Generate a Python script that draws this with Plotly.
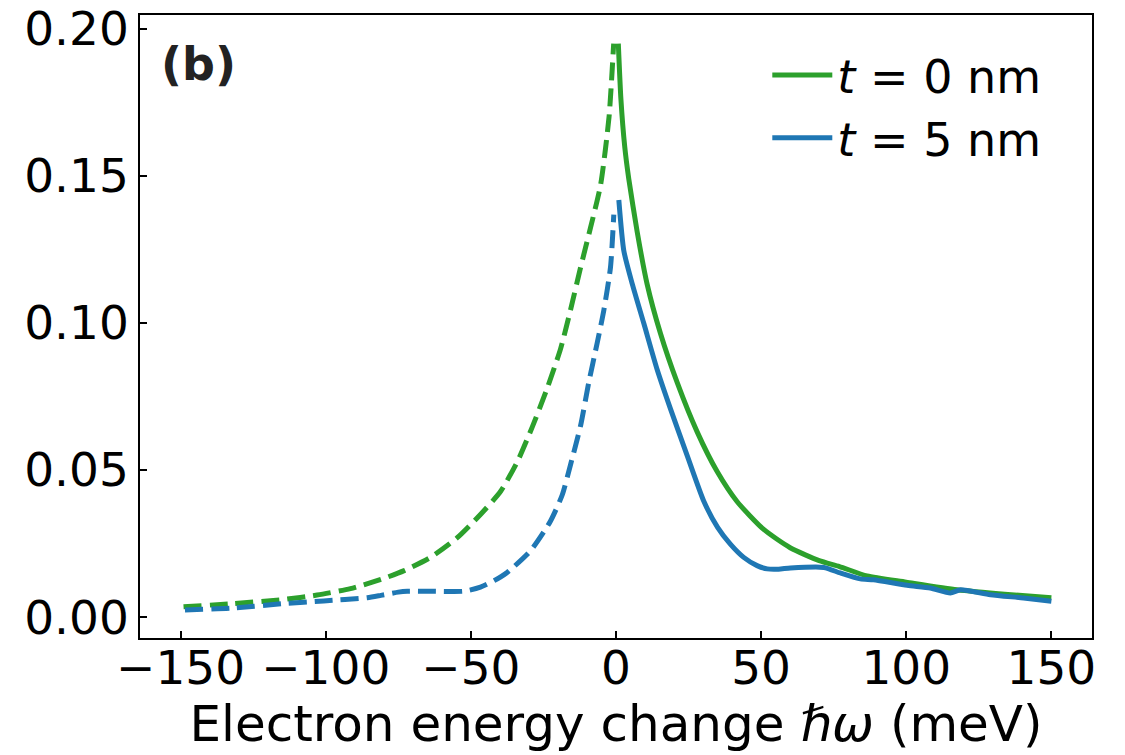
import plotly.graph_objects as go

# t = 0 nm (green)
g_neg_x = [-149, -132, -114.4, -103, -91.5, -81, -73, -63.9, -54.7, -46.7, -39.8, -34, -28.9, -24, -19.1, -15.7, -12.2, -8.8, -5.3, -2.4, -0.8]
g_neg_y = [0.0035, 0.0046, 0.0060, 0.0075, 0.0097, 0.0128, 0.0158, 0.0203, 0.0270, 0.0349, 0.0427, 0.0528, 0.0645, 0.0770, 0.0912, 0.1043, 0.1189, 0.1323, 0.147, 0.170, 0.195]
g_pos_x = [0.8, 1.7, 3.0, 4.4, 7.3, 10.7, 15.3, 21.1, 28, 34.9, 41.7, 50.9, 60, 70, 77, 86.5, 100, 117.5, 135, 150]
g_pos_y = [0.195, 0.176, 0.160, 0.149, 0.131, 0.1133, 0.0965, 0.0797, 0.0629, 0.0494, 0.0393, 0.0298, 0.0236, 0.0192, 0.0172, 0.0140, 0.0119, 0.0093, 0.0077, 0.0066]

# t = 5 nm (blue)
b_neg_x = [-148.5, -132, -114.4, -100.7, -85.7, -81, -75, -71.9, -63.9, -52.4, -46.7, -42, -37.5, -29.5, -22.6, -18.5, -15.7, -12.2, -9.4, -6.5, -4.2, -1.9, -0.76]
b_neg_y = [0.0024, 0.0031, 0.0046, 0.0055, 0.0066, 0.0074, 0.0085, 0.0088, 0.0088, 0.0088, 0.0102, 0.0124, 0.0152, 0.0225, 0.0326, 0.0416, 0.0517, 0.0651, 0.0797, 0.0931, 0.1043, 0.1189, 0.1368]
b_pos_x = [0.97, 2.7, 5.6, 9.6, 14.2, 18.8, 24.5, 30.3, 35, 39.4, 44, 48.6, 52.1, 56, 60.1, 71.6, 77.3, 84.2, 88.7, 100.3, 108.3, 115.2, 118.7, 129, 140.4, 150]
b_pos_y = [0.1418, 0.1245, 0.1133, 0.0998, 0.0841, 0.0707, 0.055, 0.0393, 0.0305, 0.0248, 0.0203, 0.0175, 0.0164, 0.0163, 0.0167, 0.0169, 0.0150, 0.0130, 0.0127, 0.0108, 0.0099, 0.0082, 0.0093, 0.0076, 0.0065, 0.0054]

x_ticks = [-150, -100, -50, 0, 50, 100, 150]
x_tick_text = ["\u2212150", "\u2212100", "\u221250", "0", "50", "100", "150"]
y_ticks = [0.00, 0.05, 0.10, 0.15, 0.20]
y_tick_text = ["0.00", "0.05", "0.10", "0.15", "0.20"]

GREEN = "#2ca02c"
BLUE = "#1f77b4"
LW = 5
DASH = "18px,8px"
FONT = "DejaVu Sans"
FS = 47
SMOOTH = 0.6

fig = go.Figure()
fig.add_trace(go.Scatter(x=g_neg_x, y=g_neg_y, mode="lines", showlegend=False,
                         line=dict(color=GREEN, width=LW, dash=DASH, shape="spline", smoothing=SMOOTH)))
fig.add_trace(go.Scatter(x=b_neg_x, y=b_neg_y, mode="lines", showlegend=False,
                         line=dict(color=BLUE, width=LW, dash=DASH, shape="spline", smoothing=SMOOTH)))
fig.add_trace(go.Scatter(x=g_pos_x, y=g_pos_y, mode="lines", name="<i>t</i> = 0 nm",
                         line=dict(color=GREEN, width=LW, shape="spline", smoothing=SMOOTH)))
fig.add_trace(go.Scatter(x=b_pos_x, y=b_pos_y, mode="lines", name="<i>t</i> = 5 nm",
                         line=dict(color=BLUE, width=LW, shape="spline", smoothing=SMOOTH)))

axis_common = dict(showline=True, linecolor="black", linewidth=1.6, mirror=True,
                   ticks="inside", ticklen=7, tickwidth=1.6, tickcolor="black",
                   showgrid=False, zeroline=False, ticklabeloverflow="allow",
                   automargin=False,
                   tickfont=dict(family=FONT, size=FS, color="black"))

fig.update_xaxes(range=[-164, 164], tickvals=x_ticks, ticktext=x_tick_text,
                 ticklabelstandoff=-12,
                 title=dict(text="Electron energy change <i>\u210f\u03c9</i> (meV)",
                            font=dict(family=FONT, size=50, color="black"), standoff=5),
                 **axis_common)
fig.update_yaxes(range=[-0.0071, 0.2047], tickvals=y_ticks, ticktext=y_tick_text,
                 **axis_common)

fig.add_annotation(x=0.02, y=0.922, xref="paper", yref="paper", xanchor="left", yanchor="middle",
                   text="<b>(b)</b>", showarrow=False,
                   font=dict(family=FONT, size=46, color="#222222"))

fig.update_layout(
    width=1125, height=755,
    margin=dict(l=140, r=33, t=15, b=117),
    plot_bgcolor="white", paper_bgcolor="white",
    font=dict(family=FONT, size=FS, color="black"),
    legend=dict(x=0.952, y=0.962, xanchor="right", yanchor="top",
                bgcolor="rgba(0,0,0,0)", font=dict(family=FONT, size=46, color="black"),
                tracegroupgap=0, itemwidth=60),
)

fig.write_html("out.html")
